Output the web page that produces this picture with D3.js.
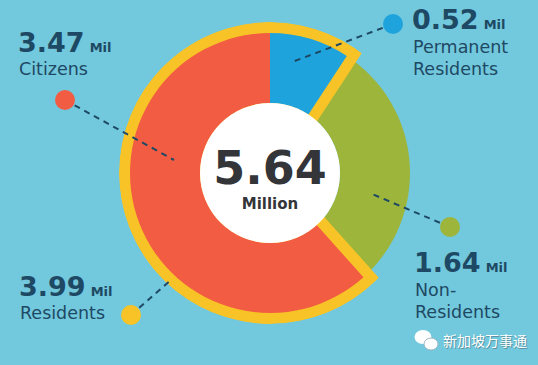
<!DOCTYPE html>
<html><head><meta charset="utf-8">
<script src="https://cdn.jsdelivr.net/npm/d3@7"></script>
<style>html,body{margin:0;padding:0;background:#72c8dc;}svg{display:block}</style>
</head><body>
<svg id="c" width="538" height="365"></svg>
<script>
// ---- data ----
const categories = ["Permanent Residents", "Non-Residents", "Citizens"];
const values = [0.52, 1.64, 3.47];
const residentsTotal = 3.99;
const totalPopulation = 5.64;
const labelValues = ["3.47", "0.52", "1.64", "3.99"];
const labelNames = [["Citizens"], ["Permanent", "Residents"], ["Non-", "Residents"], ["Residents"]];
const unitText = "Mil";
const centerUnit = "Million";
const watermark = "新加坡万事通";

// ---- layout / style ----
const W = 538, H = 365, cx = 270, cy = 173;
const rIn = 70, rOut = 140, ring = 11;
const colors = ["#1fa3dd", "#9db53b", "#f25c42"];
const yellow = "#f8c327", ink = "#1e4964";

const svg = d3.select("#c");
svg.append("rect").attr("width", W).attr("height", H).attr("fill", "#72c8dc");
svg.append("defs").append("clipPath").attr("id", "ringClip")
  .append("circle").attr("r", rOut + ring);

const g = svg.append("g").attr("transform", `translate(${cx},${cy})`);
const pie = d3.pie().sort(null).value(d => d)(values);
const arc = d3.arc().innerRadius(rIn).outerRadius(rOut);

// non-residents slice first
g.append("path").attr("d", arc(pie[1])).attr("fill", colors[1]);
// residents outline (blue + red union)
g.append("path")
  .attr("d", arc({startAngle: pie[2].startAngle, endAngle: 2 * Math.PI + pie[0].endAngle}))
  .attr("fill", yellow).attr("stroke", yellow).attr("stroke-width", ring * 2)
  .attr("stroke-linejoin", "miter").attr("clip-path", "url(#ringClip)");
g.append("path").attr("d", arc(pie[0])).attr("fill", colors[0]);
g.append("path").attr("d", arc(pie[2])).attr("fill", colors[2]);
g.append("circle").attr("r", rIn).attr("fill", "#ffffff");

// center text
g.append("text").attr("x", 0).attr("y", 11).attr("text-anchor", "middle")
  .attr("font-family", "DejaVu Sans").attr("font-weight", "bold").attr("font-size", 46)
  .attr("fill", "#333538").text(totalPopulation.toFixed(2));
g.append("text").attr("x", 0).attr("y", 36).attr("text-anchor", "middle")
  .attr("font-family", "DejaVu Sans").attr("font-weight", "bold").attr("font-size", 15)
  .attr("fill", "#333538").text(centerUnit);

// annotations
const ann = [
  {dot: [65, 100], end: [174, 160], color: colors[2]},
  {dot: [393, 24], end: [292, 62], color: colors[0]},
  {dot: [450, 227], end: [372, 194], color: colors[1]},
  {dot: [131, 315], end: [171, 280], color: yellow}
];
ann.forEach(a => {
  svg.append("line").attr("x1", a.dot[0]).attr("y1", a.dot[1]).attr("x2", a.end[0]).attr("y2", a.end[1])
    .attr("stroke", ink).attr("stroke-width", 2).attr("stroke-dasharray", "6,5");
});
ann.forEach(a => {
  svg.append("circle").attr("cx", a.dot[0]).attr("cy", a.dot[1]).attr("r", 10).attr("fill", a.color);
});

// labels
const labelPos = [
  {x: 18, y: 52, ly: 75},
  {x: 412, y: 29, ly: 53},
  {x: 414, y: 272, ly: 296},
  {x: 19, y: 296, ly: 319}
];
labelPos.forEach((p, i) => {
  const t = svg.append("text").attr("x", p.x).attr("y", p.y).attr("fill", ink)
    .attr("font-family", "DejaVu Sans").attr("font-weight", "bold");
  t.append("tspan").attr("font-size", 27).text(labelValues[i]);
  t.append("tspan").attr("font-size", 13).attr("dx", 5).text(unitText);
  labelNames[i].forEach((n, j) => {
    svg.append("text").attr("x", p.x + 1).attr("y", p.ly + j * 22).attr("fill", ink)
      .attr("font-family", "DejaVu Sans").attr("font-size", 17.5).text(n);
  });
});

// watermark
const wm = svg.append("g");
wm.append("ellipse").attr("cx", 423).attr("cy", 337).attr("rx", 8.5).attr("ry", 7).attr("fill", "#fff");
wm.append("ellipse").attr("cx", 431).attr("cy", 344).attr("rx", 7).attr("ry", 6).attr("fill", "#fff").attr("stroke", "#9fb7c2").attr("stroke-width", 1);
wm.append("text").attr("x", 444).attr("y", 347).attr("fill", "#4f7380").attr("opacity", 0.6)
  .attr("font-family", "Noto Sans CJK SC").attr("font-size", 14).text(watermark);
wm.append("text").attr("x", 443).attr("y", 346).attr("fill", "#fff")
  .attr("font-family", "Noto Sans CJK SC").attr("font-size", 14).text(watermark);
</script>
</body></html>
